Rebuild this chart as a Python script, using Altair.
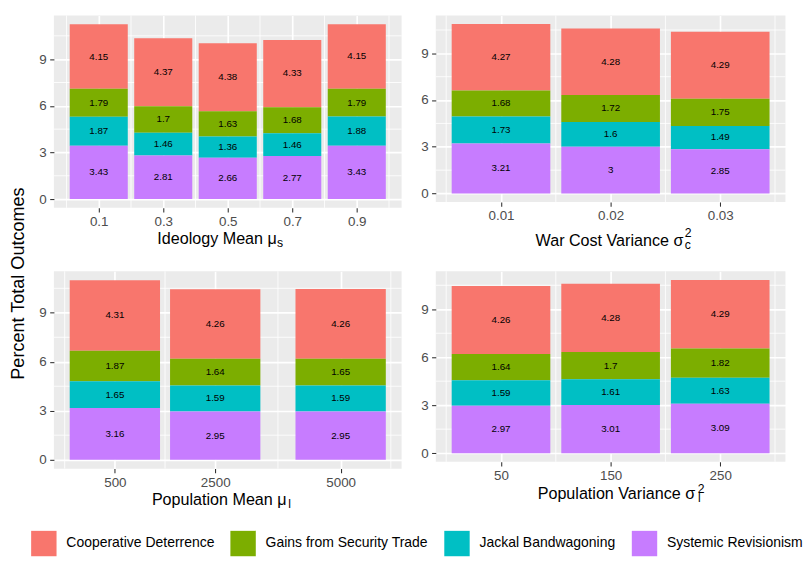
import altair as alt
import pandas as pd

categories = ["Cooperative Deterrence", "Gains from Security Trade",
              "Jackal Bandwagoning", "Systemic Revisionism"]
colors = ["#F8766D", "#7CAE00", "#00BFC4", "#C77CFF"]
stack_rank = {"Systemic Revisionism": 0, "Jackal Bandwagoning": 1,
              "Gains from Security Trade": 2, "Cooperative Deterrence": 3}

# Panel 1: Ideology Mean
ideology_x = [0.1, 0.3, 0.5, 0.7, 0.9]
ideology_coop = [4.15, 4.37, 4.38, 4.33, 4.15]
ideology_gains = [1.79, 1.7, 1.63, 1.68, 1.79]
ideology_jackal = [1.87, 1.46, 1.36, 1.46, 1.88]
ideology_sysrev = [3.43, 2.81, 2.66, 2.77, 3.43]

# Panel 2: War Cost Variance
warcost_x = [0.01, 0.02, 0.03]
warcost_coop = [4.27, 4.28, 4.29]
warcost_gains = [1.68, 1.72, 1.75]
warcost_jackal = [1.73, 1.6, 1.49]
warcost_sysrev = [3.21, 3.0, 2.85]

# Panel 3: Population Mean
popmean_x = [500, 2500, 5000]
popmean_coop = [4.31, 4.26, 4.26]
popmean_gains = [1.87, 1.64, 1.65]
popmean_jackal = [1.65, 1.59, 1.59]
popmean_sysrev = [3.16, 2.95, 2.95]

# Panel 4: Population Variance
popvar_x = [50, 150, 250]
popvar_coop = [4.26, 4.28, 4.29]
popvar_gains = [1.64, 1.7, 1.82]
popvar_jackal = [1.59, 1.61, 1.63]
popvar_sysrev = [2.97, 3.01, 3.09]

y_breaks = [0, 3, 6, 9]

FONT = "Liberation Sans"
LABEL_SIZE = 13.7
TITLE_SIZE = 16.5
YTITLE_SIZE = 18.5
SCRIPT_SIZE = 12.5

legend = alt.Legend(orient="none", legendX=-23.3, legendY=527.7,
                    direction="horizontal", title=None, symbolType="square",
                    symbolSize=676, symbolStrokeWidth=0, symbolOpacity=1,
                    labelFontSize=14.3, labelColor="black", labelFont=FONT,
                    labelOffset=10, columnPadding=16, padding=0, labelLimit=400)


def minor_breaks(b, lo, hi):
    bd = b[1] - b[0]
    bb = list(b)
    if lo < bb[0]:
        bb = [bb[0] - bd] + bb
    if hi > bb[-1]:
        bb = bb + [bb[-1] + bd]
    mids = [(bb[i] + bb[i + 1]) / 2 for i in range(len(bb) - 1)]
    return [m for m in mids if lo <= m <= hi]


def make_panel(xs, coop, gains, jackal, sysrev, w, h, fmt, title_main,
               tx, ty, scripts, ytitle=None):
    series = {categories[0]: coop, categories[1]: gains,
              categories[2]: jackal, categories[3]: sysrev}
    rows = []
    for c in categories:
        for xv, v in zip(xs, series[c]):
            rows.append({"x": xv, "cat": c, "value": v, "rank": stack_rank[c]})
    df = pd.DataFrame(rows)
    totals = [sum(series[c][i] for c in categories) for i in range(len(xs))]
    ymax = max(totals)
    step = min(xs[i + 1] - xs[i] for i in range(len(xs) - 1))
    bw = 0.9 * step
    df["xlo"] = df["x"] - bw / 2
    df["xhi"] = df["x"] + bw / 2
    lo = min(xs) - bw / 2
    hi = max(xs) + bw / 2
    ex = 0.05 * (hi - lo)
    xdom = [lo - ex, hi + ex]
    ydom = [-0.05 * ymax, 1.05 * ymax]

    xscale = alt.Scale(domain=xdom, nice=False, zero=False)
    yscale = alt.Scale(domain=ydom, nice=False, zero=False)

    xaxis = alt.Axis(values=xs, format=fmt, title=title_main,
                     titleX=tx, titleY=ty, titleAlign="right",
                     titleBaseline="alphabetic", titleAngle=0)
    if ytitle:
        yaxis = alt.Axis(values=y_breaks, format="d", title=ytitle,
                         titleX=-37, titleY=12, titleAngle=270,
                         titleAlign="center", titleBaseline="middle",
                         titleFontSize=YTITLE_SIZE, labelPadding=3.5)
    else:
        yaxis = alt.Axis(values=y_breaks, format="d", title=None,
                         labelPadding=3.5)

    base = alt.Chart(df).transform_stack(
        stack="value", groupby=["x"], as_=["y0", "y1"],
        sort=[alt.SortField("rank", order="ascending")]
    ).transform_calculate(ymid="(datum.y0 + datum.y1) / 2")

    mx = pd.DataFrame({"v": minor_breaks(xs, xdom[0], xdom[1])})
    my = pd.DataFrame({"v": minor_breaks(y_breaks, ydom[0], ydom[1])})

    minor_x = alt.Chart(mx).mark_rule(color="white", strokeWidth=0.85).encode(
        x=alt.X("v:Q", scale=xscale, axis=xaxis))
    minor_y = alt.Chart(my).mark_rule(color="white", strokeWidth=0.85).encode(
        y=alt.Y("v:Q", scale=yscale, axis=yaxis))

    bars = base.mark_rect().encode(
        x=alt.X("xlo:Q", scale=xscale, axis=xaxis),
        x2="xhi:Q",
        y=alt.Y("y0:Q", scale=yscale, axis=yaxis),
        y2="y1:Q",
        color=alt.Color("cat:N", scale=alt.Scale(domain=categories, range=colors),
                        legend=legend),
    )
    labels = base.mark_text(fontSize=10, color="black", font=FONT).encode(
        x=alt.X("x:Q", scale=xscale, axis=xaxis),
        y=alt.Y("ymid:Q", scale=yscale, axis=yaxis),
        text=alt.Text("value:Q", format=".3~g"),
    )
    layers = [minor_x, minor_y, bars, labels]
    for s, sx, sy in scripts:
        layers.append(
            alt.Chart(pd.DataFrame({"t": [s]})).mark_text(
                align="left", baseline="alphabetic", fontSize=SCRIPT_SIZE,
                color="black", font=FONT).encode(
                text="t:N", x=alt.value(sx), y=alt.value(sy))
        )
    return alt.layer(*layers).properties(width=w, height=h)


tl = make_panel(ideology_x, ideology_coop, ideology_gains, ideology_jackal,
                ideology_sysrev, 356, 197, ".1f", "Ideology Mean μ",
                227.7, 36.7, [("s", 228.5, 237)])
tr = make_panel(warcost_x, warcost_coop, warcost_gains, warcost_jackal,
                warcost_sysrev, 358, 191, ".2f", "War Cost Variance σ",
                253, 44.3, [("2", 255, 227), ("c", 255, 238.7)])
bl = make_panel(popmean_x, popmean_coop, popmean_gains, popmean_jackal,
                popmean_sysrev, 356, 202, "d", "Population Mean μ",
                237.7, 36.5, [("l", 240, 242.5)],
                ytitle="Percent Total Outcomes")
br = make_panel(popvar_x, popvar_coop, popvar_gains, popvar_jackal,
                popvar_sysrev, 358, 195, "d", "Population Variance σ",
                265, 37.5, [("2", 268.3, 226.5), ("l", 268.5, 235.8)])

chart = alt.concat(tl, tr, bl, br, columns=2, spacing={"row": 65, "column": 35},
                   bounds="flush").resolve_scale(
    x="independent", y="independent", color="shared"
).properties(padding=0).configure(font=FONT).configure_view(
    fill="#EBEBEB", strokeWidth=0
).configure_axis(
    grid=True, gridColor="white", gridWidth=1.7, domain=False,
    ticks=True, tickSize=4.3, tickColor="#333333", tickWidth=1.1,
    labelColor="#4D4D4D", labelFontSize=LABEL_SIZE, labelPadding=2.5,
    labelFont=FONT, titleFont=FONT, titleFontSize=TITLE_SIZE,
    titleFontWeight="normal", titleColor="black"
)

chart.save("out.html", embed_options={"renderer": "svg", "actions": False})
